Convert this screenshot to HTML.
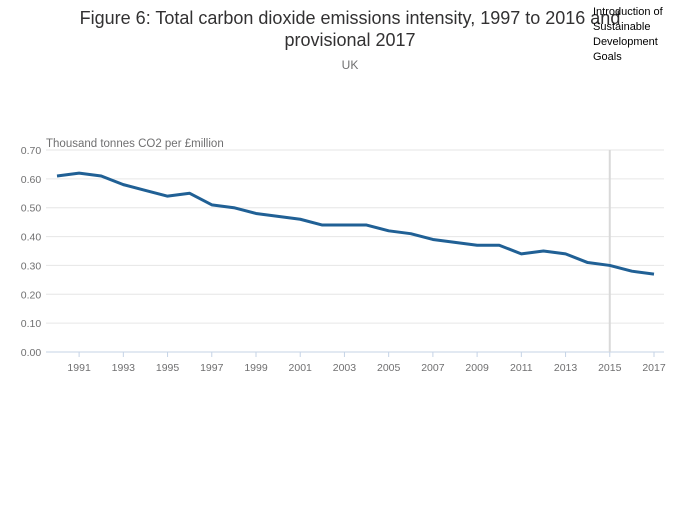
<!DOCTYPE html>
<html><head><meta charset="utf-8"><style>
body{margin:0;background:#fff;width:700px;height:502px;overflow:hidden;font-family:"Liberation Sans",sans-serif}
svg text{font-family:"Liberation Sans",sans-serif}
</style></head><body>
<svg id="chart" width="700" height="502" xmlns="http://www.w3.org/2000/svg">
<text x="350" y="24" text-anchor="middle" font-size="18" fill="#323132">Figure 6: Total carbon dioxide emissions intensity, 1997 to 2016 and</text>
<text x="350" y="46" text-anchor="middle" font-size="18" fill="#323132">provisional 2017</text>
<text x="350" y="69" text-anchor="middle" font-size="12" fill="#707071">UK</text>
<text x="46" y="147" font-size="11.5" fill="#707071">Thousand tonnes CO2 per £million</text>
<g id="grid"></g><g id="xticks"></g>
<line id="sdg" y1="150" y2="352" stroke="#d9d9d9" stroke-width="2"/>
<text font-size="11" fill="#000"><tspan x="593" y="15">Introduction of</tspan><tspan x="593" y="30">Sustainable</tspan><tspan x="593" y="45">Development</tspan><tspan x="593" y="60">Goals</tspan></text>
<path id="line" fill="none" stroke="#206095" stroke-width="3" stroke-linejoin="round"/>
</svg>
<script>
const years=[1990,1991,1992,1993,1994,1995,1996,1997,1998,1999,2000,2001,2002,2003,2004,2005,2006,2007,2008,2009,2010,2011,2012,2013,2014,2015,2016,2017];
const values=[0.61,0.62,0.61,0.58,0.56,0.54,0.55,0.51,0.50,0.48,0.47,0.46,0.44,0.44,0.44,0.42,0.41,0.39,0.38,0.37,0.37,0.34,0.35,0.34,0.31,0.30,0.28,0.27];
const yTicks=[0,0.1,0.2,0.3,0.4,0.5,0.6,0.7];
const xTickLabels=[1991,1993,1995,1997,1999,2001,2003,2005,2007,2009,2011,2013,2015,2017];
const markerYear=2015;
const NS="http://www.w3.org/2000/svg";
const x=v=>57+(v-1990)*(654-57)/27;
const y=v=>352-v*(202/0.7);
const grid=document.getElementById('grid'),xt=document.getElementById('xticks');
yTicks.forEach((t,i)=>{
 const l=document.createElementNS(NS,'line');
 
 
 l.setAttribute('x1',46);l.setAttribute('x2',664);l.setAttribute('y1',y(t));l.setAttribute('y2',y(t));
 l.setAttribute('stroke',i==0?'#c5d3e6':'#e6e6e6');l.setAttribute('stroke-width',1);
 grid.appendChild(l);
 const tx=document.createElementNS(NS,'text');
 
 
 tx.setAttribute('x',31);tx.setAttribute('y',y(t)+4);tx.setAttribute('text-anchor','middle');
 tx.setAttribute('font-size','10.5');tx.setAttribute('fill','#707071');tx.textContent=t.toFixed(2);
 grid.appendChild(tx);
});
xTickLabels.forEach(yr=>{
 const l=document.createElementNS(NS,'line');
 
 
 l.setAttribute('x1',x(yr));l.setAttribute('x2',x(yr));l.setAttribute('y1',352);l.setAttribute('y2',357);
 l.setAttribute('stroke','#c5d3e6');xt.appendChild(l);
 const tx=document.createElementNS(NS,'text');
 
 
 tx.setAttribute('x',x(yr));tx.setAttribute('y',371);tx.setAttribute('text-anchor','middle');
 tx.setAttribute('font-size','10.5');tx.setAttribute('fill','#707071');tx.textContent=yr;
 xt.appendChild(tx);
});
const s=document.getElementById('sdg');s.setAttribute('x1',x(markerYear));s.setAttribute('x2',x(markerYear));
document.getElementById('line').setAttribute('d',years.map((yr,i)=>(i?'L':'M')+x(yr)+','+y(values[i])).join(''));
</script>
</body></html>
